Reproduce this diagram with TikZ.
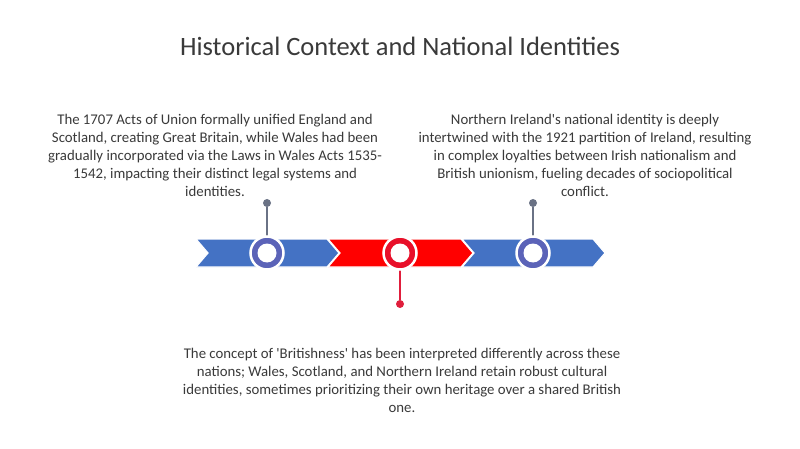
\documentclass[tikz,border=0pt]{standalone}
\usepackage{fontspec}
\setmainfont{Carlito}[Ligatures=TeXOff]
\definecolor{txt}{HTML}{3A3A3A}
\definecolor{chblue}{HTML}{4472C4}
\definecolor{chred}{HTML}{FF0000}
\definecolor{ringblue}{HTML}{5B63B8}
\definecolor{ringred}{HTML}{E8102A}
\definecolor{pingray}{HTML}{6A7285}
\definecolor{pinred}{HTML}{E01E3C}
\tikzset{
  chev/.style={draw=white, line width=1.2pt, line join=miter},
  ringnode/.style={circle, draw=white, line width=2.5pt, minimum size=33pt, inner sep=0pt},
  holenode/.style={circle, fill=white, minimum size=19pt, inner sep=0pt},
  dotnode/.style={circle, minimum size=8pt, inner sep=0pt},
  pinline/.style={line width=1.2pt},
  bodytext/.style={text=txt, font=\fontsize{14.8}{18}\selectfont, align=center, inner sep=0pt}
}
\begin{document}
\begin{tikzpicture}[x=1pt, y=-1pt]
\useasboundingbox (0,0) rectangle (800,449);
\fill[white] (0,0) rectangle (800,449);

\node[text=txt, font=\fontsize{26.5}{30}\selectfont, inner sep=0pt] (title) at (400,46) {Historical Context and National Identities};

\node[bodytext, anchor=north] (t1) at (215,114) {The 1707 Acts of Union formally unified England and\\Scotland, creating Great Britain, while Wales had been\\gradually incorporated via the Laws in Wales Acts 1535-\\1542, impacting their distinct legal systems and\\identities.};

\node[bodytext, anchor=north] (t2) at (585,114) {Northern Ireland's national identity is deeply\\intertwined with the 1921 partition of Ireland, resulting\\in complex loyalties between Irish nationalism and\\British unionism, fueling decades of sociopolitical\\conflict.};

\node[bodytext, anchor=north] (t3) at (402,348) {The concept of 'Britishness' has been interpreted differently across these\\nations; Wales, Scotland, and Northern Ireland retain robust cultural\\identities, sometimes prioritizing their own heritage over a shared British\\one.};

% chevrons
\fill[chev, fill=chblue] (196,239) -- (327,239) -- (339,253) -- (327,267) -- (196,267) -- (208,253) -- cycle;
\fill[chev, fill=chred] (328,239) -- (461,239) -- (473,253) -- (461,267) -- (328,267) -- (340,253) -- cycle;
\fill[chev, fill=chblue] (462,239) -- (593,239) -- (605,253) -- (593,267) -- (462,267) -- (474,253) -- cycle;

% pins
\node[dotnode, fill=pingray] (d1) at (267,203) {};
\node[dotnode, fill=pinred] (d2) at (400,304) {};
\node[dotnode, fill=pingray] (d3) at (533,203) {};

\coordinate (p1) at (267,253);
\coordinate (p2) at (400,253);
\coordinate (p3) at (533,253);
\draw[pinline, draw=pingray] (d1) -- (p1);
\draw[pinline, draw=pinred] (d2) -- (p2);
\draw[pinline, draw=pingray] (d3) -- (p3);

% rings
\node[ringnode, fill=ringblue] (c1) at (p1) {};
\node[holenode] (h1) at (c1) {};
\node[ringnode, fill=ringred] (c2) at (p2) {};
\node[holenode] (h2) at (c2) {};
\node[ringnode, fill=ringblue] (c3) at (p3) {};
\node[holenode] (h3) at (c3) {};
\end{tikzpicture}
\end{document}
